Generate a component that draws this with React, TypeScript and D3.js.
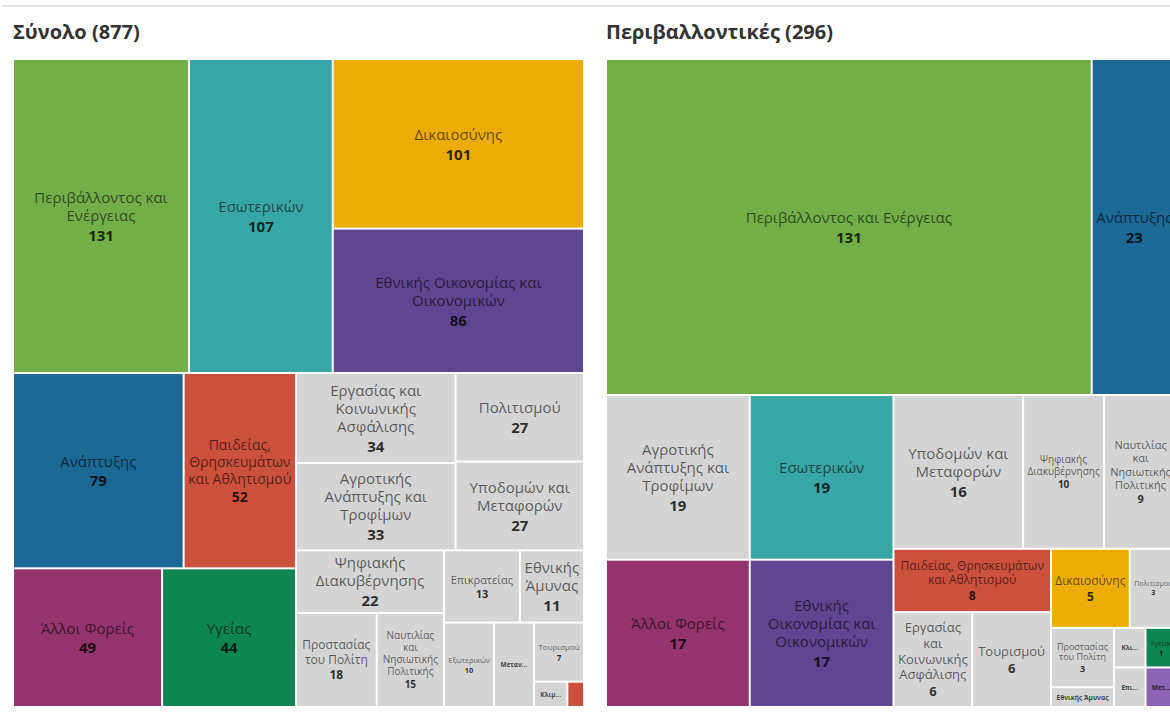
import React, { useMemo } from "react";
import * as d3 from "d3";

// ---------- DATA ----------
const totalTitle = "Σύνολο (877)";
const totalCategories = [
  "Περιβάλλοντος και Ενέργειας",
  "Εσωτερικών",
  "Δικαιοσύνης",
  "Εθνικής Οικονομίας και Οικονομικών",
  "Ανάπτυξης",
  "Παιδείας, Θρησκευμάτων και Αθλητισμού",
  "Άλλοι Φορείς",
  "Υγείας",
  "Εργασίας και Κοινωνικής Ασφάλισης",
  "Αγροτικής Ανάπτυξης και Τροφίμων",
  "Πολιτισμού",
  "Υποδομών και Μεταφορών",
  "Ψηφιακής Διακυβέρνησης",
  "Προστασίας του Πολίτη",
  "Ναυτιλίας και Νησιωτικής Πολιτικής",
  "Επικρατείας",
  "Εθνικής Άμυνας",
  "Εξωτερικών",
  "Μετανάστευσης και Ασύλου",
  "Τουρισμού",
  "Κλιματικής Κρίσης και Πολιτικής Προστασίας",
  "Κοινωνικής Συνοχής και Οικογένειας",
];
const totalValues = [131, 107, 101, 86, 79, 52, 49, 44, 34, 33, 27, 27, 22, 18, 15, 13, 11, 10, 8, 7, 2, 1];

const envTitle = "Περιβαλλοντικές (296)";
const envCategories = [
  "Περιβάλλοντος και Ενέργειας",
  "Ανάπτυξης",
  "Αγροτικής Ανάπτυξης και Τροφίμων",
  "Εσωτερικών",
  "Άλλοι Φορείς",
  "Εθνικής Οικονομίας και Οικονομικών",
  "Υποδομών και Μεταφορών",
  "Ψηφιακής Διακυβέρνησης",
  "Ναυτιλίας και Νησιωτικής Πολιτικής",
  "Παιδείας, Θρησκευμάτων και Αθλητισμού",
  "Εργασίας και Κοινωνικής Ασφάλισης",
  "Τουρισμού",
  "Δικαιοσύνης",
  "Πολιτισμού",
  "Προστασίας του Πολίτη",
  "Εθνικής Άμυνας",
  "Κλιματικής Κρίσης και Πολιτικής Προστασίας",
  "Υγείας",
  "Επικρατείας",
  "Μετανάστευσης και Ασύλου",
];
const envValues = [131, 23, 19, 19, 17, 17, 16, 10, 9, 8, 6, 6, 5, 3, 3, 1, 1, 1, 1, 1];

// ---------- STYLES ----------
const GREY = "#D4D4D4";
const baseColors: Record<string, string> = {
  "Περιβάλλοντος και Ενέργειας": "#73AF48",
  "Εσωτερικών": "#38A6A5",
  "Δικαιοσύνης": "#EDAD08",
  "Εθνικής Οικονομίας και Οικονομικών": "#5F4690",
  "Ανάπτυξης": "#1D6996",
  "Παιδείας, Θρησκευμάτων και Αθλητισμού": "#CC503E",
  "Άλλοι Φορείς": "#94346E",
  "Υγείας": "#0F8554",
};
const totalColors: Record<string, string> = {
  ...baseColors,
  "Κοινωνικής Συνοχής και Οικογένειας": "#CC503E",
};
const envColors: Record<string, string> = {
  ...baseColors,
  "Μετανάστευσης και Ασύλου": "#8E64B4",
};

const FONT = "'Open Sans', 'Noto Sans', sans-serif";
const PW = 571;
const PH = 648;
const TOP = 59;

// ---------- LAYOUT ----------
function binaryTile(parent: any, x0: number, y0: number, x1: number, y1: number) {
  const nodes = parent.children;
  function part(i: number, j: number, value: number, a0: number, b0: number, a1: number, b1: number) {
    if (j - i === 1) {
      const n = nodes[i];
      n.x0 = a0; n.y0 = b0; n.x1 = a1; n.y1 = b1;
      return;
    }
    const half = value / 2;
    let sum = 0, best = i + 1, bestDiff = Infinity, bestSum = 0;
    for (let k = i; k < j - 1; k++) {
      sum += nodes[k].value;
      const d = Math.abs(sum - half);
      if (d < bestDiff - 1e-9) { bestDiff = d; best = k + 1; bestSum = sum; }
    }
    const f = bestSum / value;
    if (a1 - a0 >= b1 - b0) {
      const xm = a0 + (a1 - a0) * f;
      part(i, best, bestSum, a0, b0, xm, b1);
      part(best, j, value - bestSum, xm, b0, a1, b1);
    } else {
      const ym = b0 + (b1 - b0) * f;
      part(i, best, bestSum, a0, b0, a1, ym);
      part(best, j, value - bestSum, a0, ym, a1, b1);
    }
  }
  part(0, nodes.length, parent.value, x0, y0, x1, y1);
}

let ctx: CanvasRenderingContext2D | null = null;
function measure(text: string, fs: number, weight = 400) {
  if (!ctx) ctx = document.createElement("canvas").getContext("2d");
  if (!ctx) return text.length * fs * 0.55;
  ctx.font = `${weight} ${fs}px ${FONT}`;
  return ctx.measureText(text).width;
}

function wrap(words: string[], fs: number, maxW: number): string[] | null {
  const lines: string[] = [];
  let cur = "";
  for (const w of words) {
    if (measure(w, fs) > maxW) return null;
    const cand = cur ? cur + " " + w : w;
    if (measure(cand, fs) <= maxW) cur = cand;
    else { lines.push(cur); cur = w; }
  }
  if (cur) lines.push(cur);
  return lines;
}

const SIZES = [15, 14, 13, 12, 11, 10, 9, 8, 7.5, 7, 6.5];

function labelLayout(name: string, w: number, h: number) {
  const aw = w - 8;
  const ah = h - 4;
  const words = name.split(" ");
  for (const fs of SIZES) {
    const lines = wrap(words, fs, aw);
    if (!lines) continue;
    const lh = fs * 1.2, vh = fs * 1.35;
    if (lines.length * lh + vh <= ah) return { mode: "full", fs, lines, lh, vh };
  }
  const fs = 6.5;
  const lh = fs * 1.2;
  const lines = wrap(words, fs, aw);
  if (lines && lines.length * lh <= ah) return { mode: "name", fs, lines, lh, vh: 0 };
  const first = words[0];
  for (let k = Math.min(first.length - 1, 5); k >= 1; k--) {
    const t = first.slice(0, k) + "...";
    if (measure(t, fs, 700) <= aw - 4) return { mode: "trunc", fs, lines: [t], lh, vh: 0 };
  }
  return null;
}

function Panel({ title, x, categories, values, colors }: any) {
  const leaves = useMemo(() => {
    const root = d3
      .hierarchy({ children: categories.map((c: string, i: number) => ({ name: c, value: values[i] })) } as any)
      .sum((d: any) => d.value ?? 0)
      .sort((a: any, b: any) => b.value - a.value);
    d3.treemap().size([PW, PH]).tile(binaryTile as any).round(false)(root as any);
    return root.leaves() as any[];
  }, [categories, values]);

  return (
    <g>
      <text x={x} y={39} fontFamily={FONT} fontSize={20} fontWeight={700} fill="#333">
        {title}
      </text>
      <g transform={`translate(${x},${TOP})`}>
        {leaves.map((d, i) => {
          const w = d.x1 - d.x0, h = d.y1 - d.y0;
          const name = d.data.name;
          const lab = labelLayout(name, w, h);
          const cx = d.x0 + w / 2, cy = d.y0 + h / 2;
          let content = null;
          if (lab) {
            const total = lab.lines.length * lab.lh + lab.vh;
            const start = cy - total / 2;
            const small = lab.mode !== "full";
            content = (
              <g fontFamily={FONT} textAnchor="middle">
                {lab.lines.map((l: string, k: number) => (
                  <text key={k} x={cx} y={start + (k + 0.5) * lab.lh} dominantBaseline="central"
                    fontSize={lab.fs} fontWeight={small ? 700 : 400}
                    fill="#000" fillOpacity={small ? 0.72 : 0.6}>{l}</text>
                ))}
                {lab.mode === "full" && (
                  <text x={cx} y={start + lab.lines.length * lab.lh + lab.vh / 2 + lab.fs * 0.05}
                    dominantBaseline="central" fontSize={lab.fs} fontWeight={700}
                    fill="#000" fillOpacity={0.8}>{d.data.value}</text>
                )}
              </g>
            );
          }
          return (
            <g key={i}>
              <rect x={d.x0 + 1} y={d.y0 + 1} width={Math.max(0, w - 2)} height={Math.max(0, h - 2)}
                fill={colors[name] ?? GREY} />
              {content}
            </g>
          );
        })}
      </g>
    </g>
  );
}

export default function App() {
  return (
    <svg width={1170} height={712} style={{ position: "absolute", left: 0, top: 0, background: "#fff" }}>
      <rect x={0} y={0} width={1170} height={712} fill="#fff" />
      <rect x={2} y={5} width={1168} height={2} fill="#E3E3E3" />
      <Panel title={totalTitle} x={13} categories={totalCategories} values={totalValues} colors={totalColors} />
      <Panel title={envTitle} x={606} categories={envCategories} values={envValues} colors={envColors} />
    </svg>
  );
}
